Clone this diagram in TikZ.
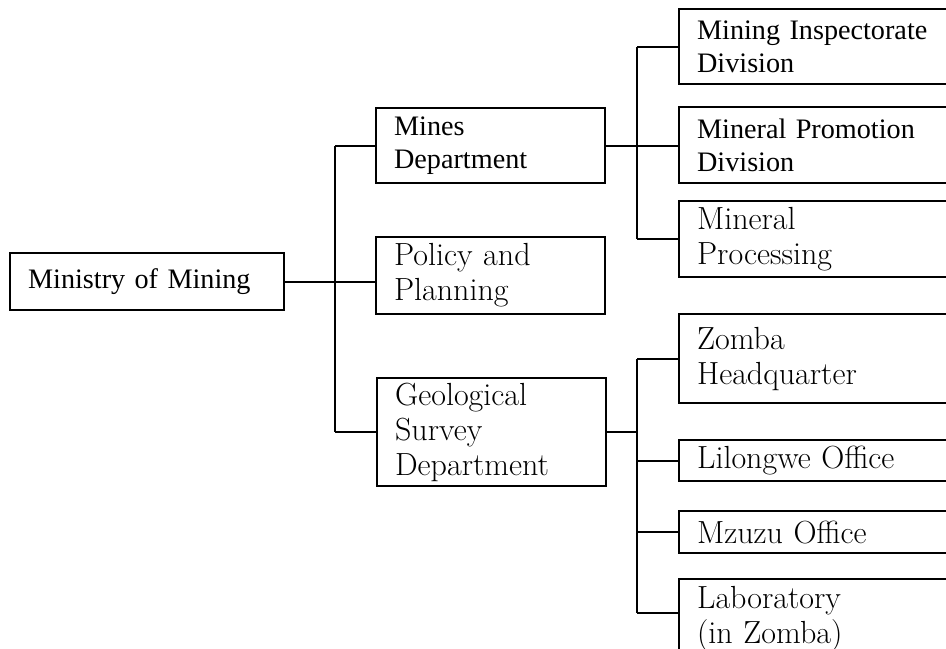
\documentclass[tikz,border=0pt]{standalone}
\usepackage{fontspec}
\usepackage{tikz}
\usetikzlibrary{positioning}
\newfontfamily\timesfont{Liberation Serif}

\begin{document}
\begin{tikzpicture}[
  x=0.5pt, y=-0.5pt,
  unit/.style={draw, line width=1.1pt, anchor=north west, align=left, inner xsep=9pt, inner ysep=0pt},
  times/.style={font=\timesfont\fontsize{14.1}{16.5}\selectfont},
  school/.style={font=\fontsize{16}{17.5}\selectfont},
  mid/.style={unit, minimum width=114.5pt, text width=96.5pt},
  leaf/.style={unit, minimum width=150pt, text width=132pt},
  link/.style={line width=1.1pt}
]
\useasboundingbox (0,0) rectangle (946,648);

% ministry and departments
\node[unit, times, minimum width=137pt, minimum height=28.5pt, text width=119pt] (ministry) at (9,252) {Ministry of Mining};
\node[mid, times, minimum height=37.5pt] (mines) at (375,107) {Mines\\Department};
\node[mid, school, minimum height=38.5pt] (policy) at (375,236) {Policy and\\Planning};
\node[mid, school, minimum height=54pt] (geo) at (376,377) {Geological\\Survey\\Department};

% divisions of the mines department
\node[leaf, times, minimum height=37.5pt] (inspect) at (678,8) {Mining Inspectorate\\Division};
\node[leaf, times, minimum height=38pt] (promote) at (678,106) {Mineral Promotion\\Division};
\node[leaf, school, minimum height=38pt] (process) at (678,200) {Mineral\\Processing};

% offices of the geological survey
\node[leaf, school, minimum height=44.5pt] (zomba) at (678,313) {Zomba\\Headquarter};
\node[leaf, school, minimum height=20.5pt] (lilongwe) at (678,439) {Lilongwe Office};
\node[leaf, school, minimum height=21pt] (mzuzu) at (678,510) {Mzuzu Office};
\node[leaf, school, minimum height=40pt] (lab) at (678,578) {Laboratory\\(in Zomba)};

\coordinate (trunk) at (335,0);
\coordinate (minesbus) at (637,0);
\coordinate (geobus) at (637,0);
\coordinate (labin) at ([yshift=-17.5pt]lab.north west);

\draw[link] (ministry.east) -- (policy.west |- ministry.east);
\draw[link] (trunk |- mines.west) -- (trunk |- geo.west);
\draw[link] (trunk |- mines.west) -- (mines.west);
\draw[link] (trunk |- geo.west) -- (geo.west);

\draw[link] (mines.east) -- (mines.east -| promote.west);
\draw[link] (minesbus |- inspect.west) -- (minesbus |- process.west);
\draw[link] (minesbus |- inspect.west) -- (inspect.west);
\draw[link] (minesbus |- process.west) -- (process.west);

\draw[link] (geo.east) -- (geobus |- geo.east);
\draw[link] (geobus |- zomba.west) -- (geobus |- labin);
\draw[link] (geobus |- zomba.west) -- (zomba.west);
\draw[link] (geobus |- lilongwe.west) -- (lilongwe.west);
\draw[link] (geobus |- mzuzu.west) -- (mzuzu.west);
\draw[link] (geobus |- labin) -- (labin);
\end{tikzpicture}
\end{document}
